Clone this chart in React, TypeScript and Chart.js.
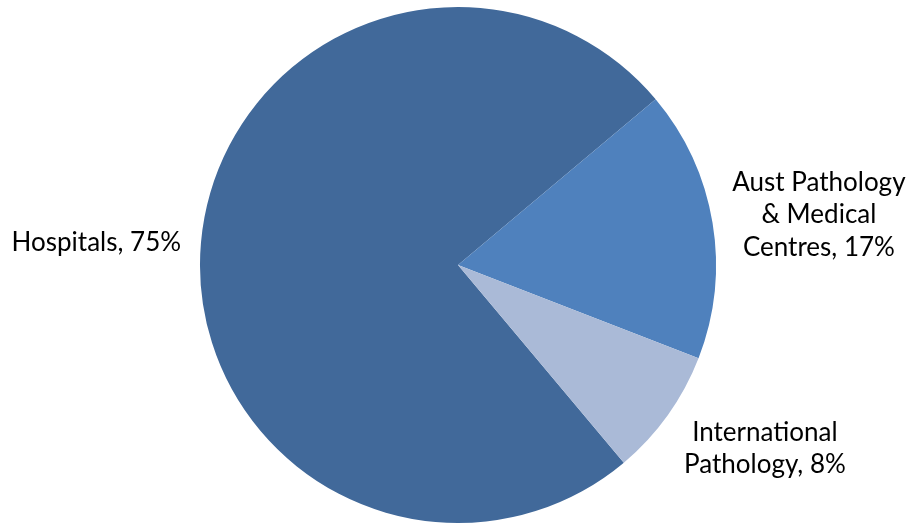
import React, { useEffect, useRef } from "react";
import { Chart, registerables } from "chart.js";

Chart.register(...registerables);

const categories = ["Hospitals", "Aust Pathology & Medical Centres", "International Pathology"];
const shares = [75, 17, 8];
const sliceColors = ["#41699A", "#4F81BD", "#AABAD7"];

const FONT_SIZE = 26;
const FONT = `${FONT_SIZE}px Lato, "Open Sans", sans-serif`;
const LINE_H = 32.5;
const WRAP = 188;

function wrap(ctx: CanvasRenderingContext2D, text: string, max: number): string[] {
  const words = text.split(" ");
  const lines: string[] = [];
  let cur = "";
  for (const w of words) {
    const test = cur ? cur + " " + w : w;
    if (ctx.measureText(test).width > max && cur) {
      lines.push(cur);
      cur = w;
    } else cur = test;
  }
  if (cur) lines.push(cur);
  return lines;
}

const outsideLabels = {
  id: "outsideLabels",
  afterDatasetsDraw(chart: any) {
    const ctx: CanvasRenderingContext2D = chart.ctx;
    const meta = chart.getDatasetMeta(0);
    ctx.save();
    ctx.font = FONT;
    ctx.fillStyle = "#000";
    ctx.textBaseline = "middle";
    meta.data.forEach((arc: any, i: number) => {
      const p = arc.getProps(["x", "y", "startAngle", "endAngle", "outerRadius"], true);
      const mid = (p.startAngle + p.endAngle) / 2;
      const c = Math.cos(mid);
      const s = Math.sin(mid);
      const d = p.outerRadius + 20;
      const ax = p.x + c * d;
      const ay = p.y + s * d;
      const text = `${categories[i]}, ${shares[i]}%`;
      const lines = wrap(ctx, text, WRAP);
      const widths = lines.map((l) => ctx.measureText(l).width);
      const bw = Math.max(...widths);
      const bh = lines.length * LINE_H;
      const left = c >= 0 ? ax : ax - bw;
      const cy = ay + (s * bh) / 2 + 3;
      const top = cy - bh / 2;
      ctx.textAlign = "center";
      lines.forEach((l, k) => {
        ctx.fillText(l, left + bw / 2, top + LINE_H * (k + 0.5));
      });
    });
    ctx.restore();
  },
};

export default function App() {
  const ref = useRef<HTMLCanvasElement | null>(null);
  useEffect(() => {
    if (!ref.current) return;
    const chart = new Chart(ref.current, {
      type: "pie",
      data: {
        labels: categories,
        datasets: [
          {
            data: shares,
            backgroundColor: sliceColors,
            borderWidth: 0,
          },
        ],
      },
      options: {
        animation: false,
        responsive: true,
        maintainAspectRatio: false,
        rotation: 140,
        layout: { padding: { top: 7, bottom: 3, left: 2, right: 0 } },
        plugins: {
          legend: { display: false },
          tooltip: { enabled: false },
          title: { display: false },
        },
      },
      plugins: [outsideLabels],
    });
    return () => chart.destroy();
  }, []);
  return (
    <div style={{ position: "fixed", left: 0, top: 0, width: 914, height: 526, background: "#fff" }}>
      <canvas ref={ref} />
    </div>
  );
}
